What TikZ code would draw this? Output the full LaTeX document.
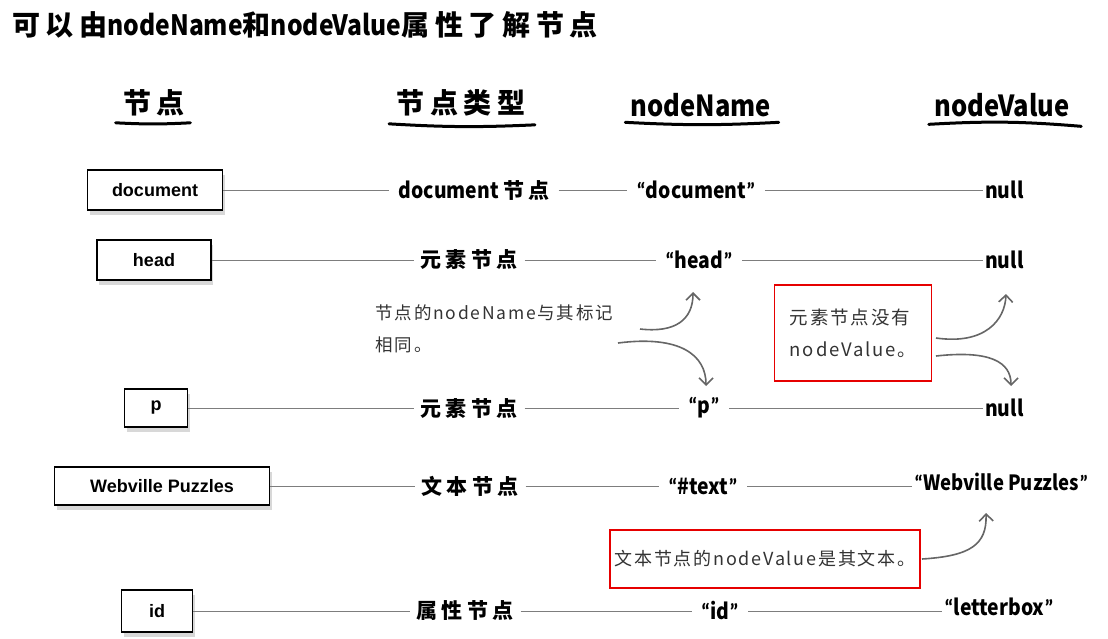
\documentclass[tikz,border=0pt]{standalone}
\usepackage{fontspec}
\setmainfont{Liberation Sans}
\newfontfamily\hand[FakeStretch=0.88]{Noto Sans CJK SC}
\newfontfamily\cjksp[LetterSpace=20]{Noto Sans CJK SC}
\newfontfamily\thin[LetterSpace=10]{Noto Sans CJK SC}
\newfontfamily\quotefont{Carlito}
\newcommand{\qtd}[1]{{\quotefont\bfseries “}#1{\quotefont\bfseries ”}}
\usetikzlibrary{shapes,arrows.meta,positioning,shadows}
\usepackage{xcolor}
\definecolor{notered}{RGB}{230,0,0}
\definecolor{linegray}{RGB}{125,125,125}

\begin{document}
\begin{tikzpicture}[x=1pt, y=-1pt]
\tikzstyle{box} = [rectangle, draw=black, line width=1.6pt, fill=white, minimum height=40pt, font=\fontsize{18}{20}\selectfont\bfseries, drop shadow={shadow xshift=2pt, shadow yshift=-5pt, fill=black!30}];
\tikzstyle{hw} = [font=\hand\bfseries\fontsize{22}{24}\selectfont, inner xsep=9pt];
\tikzstyle{cjk} = [font=\cjksp\bfseries\fontsize{21}{24}\selectfont, inner xsep=7pt];
\tikzstyle{val} = [font=\hand\bfseries\fontsize{22}{24}\selectfont, inner xsep=2pt, anchor=west];
\tikzstyle{head} = [font=\cjksp\bfseries\fontsize{28}{32}\selectfont];
\tikzstyle{headl} = [font=\hand\bfseries\fontsize{29}{32}\selectfont];
\tikzstyle{conn} = [draw=linegray, line width=1pt];
\tikzstyle{uline} = [line width=3pt, line cap=round];
\tikzstyle{note} = [font=\thin\fontsize{17.5}{32}\selectfont, text=black!80, align=left];
\tikzstyle{redbox} = [rectangle, draw=notered, line width=1.8pt];
\tikzstyle{curv} = [draw=black!60, line width=1.6pt, -{Straight Barb[length=7pt,width=14pt]}];

\useasboundingbox (0,0) rectangle (1108,638);

\node (titel) [anchor=west, font=\hand\bfseries\fontsize{28}{32}\selectfont, inner sep=0pt] at (12,25) {{\cjksp 可以由}nodeName{\cjksp 和}nodeValue{\cjksp 属性了解节点}};

\node (hnode) [head] at (154,103) {节点};
\node (htype) [head] at (461,103) {节点类型};
\node (hname) [headl] at (701,105) {nodeName};
\node (hvalue) [headl] at (1002,105) {nodeValue};
\draw[uline] ([xshift=-4pt,yshift=-3pt]hnode.south west) to[bend right=3] ([xshift=2pt,yshift=-3pt]hnode.south east);
\draw[uline] ([xshift=-4pt,yshift=-4pt]htype.south west) to[bend right=3] ([xshift=6pt,yshift=-5pt]htype.south east);
\draw[uline] ([xshift=-2pt,yshift=-2pt]hname.south west) to[bend right=3] ([xshift=4pt,yshift=-2pt]hname.south east);
\draw[uline] ([xshift=-2pt,yshift=-4pt]hvalue.south west) to[bend left=4] ([xshift=8pt,yshift=-6pt]hvalue.south east);

\node (rdoc) [box, minimum width=135pt] at (155,190) {document};
\node (tdoc) [hw] at (474,190) {document {\cjksp\fontsize{21}{24}\selectfont 节点}};
\node (ndoc) [hw] at (696,190) {\qtd{document}};
\node (vdoc) [val] at (983,190) {null};
\draw[conn] (rdoc) -- (tdoc) -- (ndoc) -- (vdoc);

\node (rhead) [box, minimum width=114pt] at (154,260) {head};
\node (thead) [cjk] at (469,260) {元素节点};
\node (nhead) [hw] at (699,260) {\qtd{head}};
\node (vhead) [val] at (983,260) {null};
\draw[conn] (rhead) -- (thead) -- (nhead) -- (vhead);

\node (rp) [box, minimum width=63pt, minimum height=38pt] at (156,408) {p};
\node (tp) [cjk] at (469,408) {元素节点};
\node (np) [hw] at (704,408) {\qtd{p}};
\node (vp) [val] at (983,408) {null};
\draw[conn] (rp) -- (tp) -- (np) -- (vp);

\node (rtext) [box, minimum width=215pt, minimum height=38pt] at (162,486) {Webville Puzzles};
\node (ttext) [cjk] at (470,486) {文本节点};
\node (ntext) [hw] at (703,486) {\qtd{\#text}};
\node (vtext) [val, font=\hand\bfseries\fontsize{21}{24}\selectfont] at (912,482) {\qtd{Webville Puzzles}};
\draw[conn] (rtext) -- (ttext) -- (ntext) -- (vtext.west|-ntext.east);

\node (rid) [box, minimum width=71pt, minimum height=42pt] at (157,611) {id};
\node (tid) [cjk] at (465,611) {属性节点};
\node (nid) [hw] at (720,611) {\qtd{id}};
\node (vid) [val] at (942,607) {\qtd{letterbox}};
\draw[conn] (rid) -- (tid) -- (nid) -- (vid.west|-nid.east);

\node (tagnote) [note, anchor=west] at (372,329) {节点的nodeName与其标记\\相同。};
\node (nonull) [redbox, note, font=\thin\fontsize{18.5}{32}\selectfont, minimum width=157pt, minimum height=96pt] at (853,333) {元素节点没有\\nodeValue。};
\node (textval) [redbox, note, font=\thin\fontsize{18}{32}\selectfont, inner xsep=3pt, minimum width=310pt, minimum height=58pt] at (765,559) {文本节点的nodeValue是其文本。};

\coordinate (a1s) at (640,329);
\coordinate (a1e) at (693,292);
\coordinate (a2s) at (618,343);
\coordinate (a2e) at (706,386);
\coordinate (a3s) at (936,338);
\coordinate (a3e) at (1006,294);
\coordinate (a4s) at (936,356);
\coordinate (a4e) at (1011,386);
\coordinate (a5s) at (922,559);
\coordinate (a5e) at (986,513);
\draw[curv] (a1s) .. controls (675,333) and (693,320) .. (a1e);
\draw[curv] (a2s) .. controls (680,335) and (706,355) .. (a2e);
\draw[curv] (a3s) .. controls (985,345) and (1005,320) .. (a3e);
\draw[curv] (a4s) .. controls (990,350) and (1011,362) .. (a4e);
\draw[curv] (a5s) .. controls (970,556) and (987,545) .. (a5e);
\end{tikzpicture}
\end{document}
